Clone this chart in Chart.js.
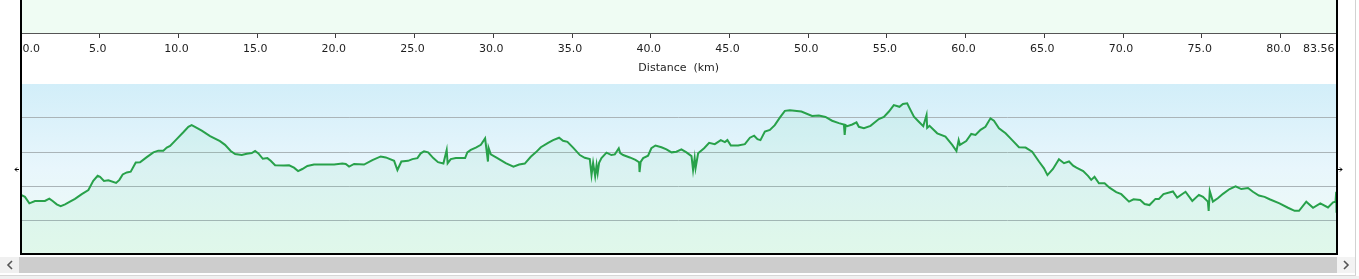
<!DOCTYPE html>
<html>
<head>
<meta charset="utf-8">
<script src="https://cdn.jsdelivr.net/npm/chart.js@4.4.1/dist/chart.umd.min.js"></script>
<style>
body { margin: 0; width: 1359px; height: 279px; overflow: hidden; background: #fff; position: relative; }
canvas, .box, svg { position: absolute; display: block; }
#axisChart { left: 0; top: 0; }
#profileChart { left: 0; top: 84px; }
</style>
</head>
<body>
<canvas id="axisChart" width="1359" height="75"></canvas>
<canvas id="profileChart" width="1359" height="170"></canvas>

<!-- frame + scrollbar -->
<div class="box" style="left:20px;top:0;width:2px;height:255px;background:#000"></div>
<div class="box" style="left:1336px;top:0;width:2px;height:255px;background:#000"></div>
<div class="box" style="left:20px;top:253px;width:1318px;height:2px;background:#000"></div>
<div class="box" style="left:1355px;top:0;width:1px;height:276px;background:#d2d2d2"></div>
<div class="box" style="left:0;top:257px;width:19px;height:16px;background:#f0f0f0"></div>
<div class="box" style="left:19px;top:257px;width:1318px;height:16px;background:#cdcdcd"></div>
<div class="box" style="left:1337px;top:257px;width:18px;height:16px;background:#f3f3f3"></div>
<div class="box" style="left:0;top:275px;width:1356px;height:1px;background:#d7d7d7"></div>
<div class="box" style="left:0;top:276px;width:1359px;height:3px;background:#f0f0f0"></div>
<svg style="left:6px;top:260px" width="8" height="10"><polyline points="6,1 2,5 6,9" stroke="#555" stroke-width="1.6" fill="none"/></svg>
<svg style="left:1342px;top:260px" width="8" height="10"><polyline points="2,1 6,5 2,9" stroke="#555" stroke-width="1.6" fill="none"/></svg>

<script>
// tick values / labels for the distance axis
const distanceTicks = [0, 5, 10, 15, 20, 25, 30, 35, 40, 45, 50, 55, 60, 65, 70, 75, 80, 83.56];
const distanceTickLabels = ["0.0", "5.0", "10.0", "15.0", "20.0", "25.0", "30.0", "35.0", "40.0",
	"45.0", "50.0", "55.0", "60.0", "65.0", "70.0", "75.0", "80.0", "83.56"];

// elevation profile (km, m)
const distanceKm = [
	0.00, 0.25, 0.53, 0.89, 1.52, 1.80, 2.01, 2.27, 2.52, 2.80, 3.11, 3.43, 3.86, 4.28, 4.59, 4.87,
	5.02, 5.27, 5.55, 6.04, 6.25, 6.46, 6.72, 6.97, 7.29, 7.56, 7.99, 8.41, 8.72, 9.04, 9.26, 9.47,
	9.89, 10.31, 10.63, 10.84, 11.05, 11.48, 12.01, 12.64, 12.96, 13.32, 13.60, 14.02, 14.34, 14.66,
	14.87, 15.08, 15.36, 15.65, 15.86, 16.14, 16.71, 17.03, 17.34, 17.60, 17.87, 18.19, 18.61, 19.25,
	19.89, 20.41, 20.63, 20.84, 21.16, 21.79, 22.32, 22.85, 23.17, 23.70, 23.91, 24.16, 24.59, 24.86,
	25.18, 25.39, 25.60, 25.86, 26.19, 26.49, 26.83, 27.04, 27.10, 27.30, 27.62, 28.21, 28.35, 28.57,
	28.89, 29.21, 29.48, 29.66, 29.70, 29.84, 30.26, 30.79, 31.28, 31.64, 32.00, 32.38, 32.70, 33.02,
	33.48, 33.80, 34.18, 34.43, 34.71, 35.07, 35.50, 35.81, 36.13, 36.24, 36.34, 36.47, 36.56, 36.63,
	36.72, 36.87, 37.19, 37.50, 37.72, 37.97, 38.06, 38.25, 38.67, 39.03, 39.26, 39.29, 39.36, 39.52,
	39.83, 40.04, 40.30, 40.68, 41.00, 41.32, 41.63, 41.95, 42.27, 42.59, 42.69, 42.79, 42.85, 43.01,
	43.39, 43.71, 44.07, 44.45, 44.71, 44.87, 45.09, 45.55, 45.98, 46.30, 46.57, 46.78, 46.97, 47.25,
	47.57, 47.88, 48.20, 48.52, 48.84, 49.57, 50.25, 50.68, 51.10, 51.52, 51.95, 52.27, 52.32, 52.38,
	52.48, 52.80, 53.07, 53.22, 53.54, 53.96, 54.49, 54.81, 55.13, 55.44, 55.80, 56.02, 56.29, 56.44,
	56.72, 57.03, 57.31, 57.52, 57.56, 57.71, 58.20, 58.72, 59.15, 59.42, 59.56, 59.64, 60.04, 60.36,
	60.63, 60.95, 61.26, 61.58, 61.80, 62.12, 62.54, 62.96, 63.39, 63.81, 64.23, 64.66, 64.98, 65.20,
	65.55, 65.93, 66.25, 66.57, 66.83, 67.04, 67.47, 67.79, 67.98, 68.19, 68.47, 68.83, 69.14, 69.57,
	69.89, 70.38, 70.67, 71.09, 71.37, 71.68, 72.06, 72.28, 72.57, 73.17, 73.44, 73.97, 74.40, 74.82,
	75.08, 75.39, 75.44, 75.51, 75.71, 76.02, 76.35, 76.77, 77.15, 77.51, 77.94, 78.25, 78.63, 78.99,
	79.31, 79.94, 80.48, 80.90, 81.18, 81.64, 82.07, 82.53, 83.02, 83.34, 83.50, 83.54, 83.56,
];
const elevationM = [
	174, 168, 149, 156, 156, 163, 156, 146, 141, 146, 154, 162, 176, 188, 215, 230,
	227, 215, 217, 209, 218, 234, 240, 242, 269, 270, 285, 299, 304, 304, 313, 318,
	338, 358, 374, 379, 374, 363, 347, 332, 321, 303, 294, 291, 295, 297,
	303, 296, 280, 282, 274, 261, 260, 261, 254, 244, 250, 259, 263, 263,
	263, 266, 265, 257, 265, 263, 276, 287, 284, 274, 247, 272, 274, 279,
	282, 296, 302, 299, 282, 270, 266, 306, 267, 279, 282, 282, 299, 306,
	313, 321, 340, 272, 312, 293, 282, 267, 257, 263, 266, 286, 299, 314,
	327, 335, 342, 333, 330, 313, 291, 283, 279, 232, 268, 229, 262, 238,
	268, 282, 298, 291, 293, 311, 297, 291, 284, 277, 270, 241, 271, 282,
	289, 311, 319, 314, 308, 299, 301, 308, 299, 288, 247, 282, 253, 296,
	311, 327, 323, 335, 329, 335, 319, 319, 323, 342, 348, 338, 335, 360,
	365, 379, 401, 421, 423, 419, 406, 407, 403, 392, 385, 381, 350, 379,
	376, 381, 387, 374, 370, 377, 397, 403, 419, 438, 433, 441, 443, 429,
	404, 389, 376, 409, 371, 377, 355, 345, 321, 303, 335, 321, 332, 353,
	350, 365, 374, 399, 392, 370, 355, 335, 314, 313, 301, 272, 252, 232,
	250, 279, 267, 272, 260, 254, 244, 229, 218, 227, 208, 208, 195, 182,
	176, 154, 161, 159, 147, 144, 162, 162, 176, 184, 166, 183, 156, 174,
	168, 154, 127, 185, 154, 164, 177, 191, 199, 191, 194, 183, 172, 168,
	161, 149, 136, 127, 127, 154, 136, 149, 137, 152, 154, 183, 121,
];

const FONT = { family: "DejaVu Sans", size: 11 };
const TEXT_COLOR = "#1e1e1e";

// fills the plot area (flat colour or vertical gradient)
const areaFill = {
	id: "areaFill",
	beforeDraw(chart, args, opts) {
		const { ctx, chartArea: a } = chart;
		ctx.save();
		if (opts.stops) {
			const g = ctx.createLinearGradient(0, a.top, 0, a.bottom);
			opts.stops.forEach((s) => g.addColorStop(s[0], s[1]));
			ctx.fillStyle = g;
		} else {
			ctx.fillStyle = opts.color;
		}
		ctx.fillRect(a.left, a.top, a.right - a.left, a.bottom - a.top);
		ctx.restore();
	},
};

// little arrows on both sides, at mid height
const sideMarkers = {
	id: "sideMarkers",
	afterDraw(chart) {
		const { ctx, chartArea: a } = chart;
		const y = Math.round((a.top + a.bottom) / 2) + 0.5;
		ctx.save();
		ctx.strokeStyle = "#000";
		ctx.lineWidth = 1;
		ctx.beginPath();
		ctx.moveTo(a.left - 2, y); ctx.lineTo(a.left - 6, y);
		ctx.moveTo(a.left - 4, y - 2); ctx.lineTo(a.left - 6, y); ctx.lineTo(a.left - 4, y + 2);
		ctx.moveTo(a.right + 1.5, y); ctx.lineTo(a.right + 5.5, y);
		ctx.moveTo(a.right + 3.5, y - 2); ctx.lineTo(a.right + 5.5, y); ctx.lineTo(a.right + 3.5, y + 2);
		ctx.stroke();
		ctx.restore();
	},
};

// top panel with the distance axis
new Chart(document.getElementById("axisChart"), {
	type: "line",
	data: { datasets: [] },
	options: {
		responsive: false,
		animation: false,
		layout: { padding: { left: 21, right: 22.5, top: 0, bottom: 0 } },
		plugins: {
			legend: { display: false },
			tooltip: { enabled: false },
			areaFill: { color: "#effcf3" },
		},
		scales: {
			x: {
				type: "linear",
				min: 0,
				max: 83.56,
				afterBuildTicks: (s) => {
					s.ticks = distanceTicks.map((v) => ({ value: v }));
				},
				// fixed axis height so the panel ends where the original does
				afterFit: (s) => {
					s.height = 42;
				},
				ticks: {
					align: "inner",
					autoSkip: false,
					maxRotation: 0,
					padding: 5,
					labelOffset: -2,
					color: TEXT_COLOR,
					font: FONT,
					// leading space keeps "0.0" clear of the frame
					callback: (v, i) => (i === 0 ? " " : "") + distanceTickLabels[i],
				},
				grid: { drawOnChartArea: false, drawTicks: true, tickLength: 5, color: "#3c3c3c" },
				border: { display: true, color: "#555", width: 1 },
				title: {
					display: true,
					text: "Distance  (km)",
					color: TEXT_COLOR,
					font: FONT,
					padding: { top: 0, bottom: 0 },
				},
			},
			y: { display: false, min: 0, max: 1 },
		},
	},
	plugins: [areaFill],
});

// elevation profile
new Chart(document.getElementById("profileChart"), {
	type: "line",
	data: {
		datasets: [
			{
				data: distanceKm.map((d, i) => ({ x: d, y: elevationM[i] })),
				borderColor: "#28a14a",
				borderWidth: 2,
				pointRadius: 0,
				tension: 0,
				fill: "origin",
				backgroundColor: "rgba(80, 210, 140, 0.09)",
			},
		],
	},
	options: {
		responsive: false,
		animation: false,
		layout: { padding: { left: 21, right: 22.5, top: 0, bottom: 0 } },
		plugins: {
			legend: { display: false },
			tooltip: { enabled: false },
			areaFill: { stops: [[0, "#d2eef9"], [0.5, "#e8f6fc"], [1, "#effcf3"]] },
		},
		scales: {
			x: { type: "linear", display: false, min: 0, max: 83.56 },
			y: {
				min: 0,
				max: 500,
				ticks: { display: false, stepSize: 100 },
				grid: {
					drawTicks: false,
					color: (c) => (c.tick.value % 500 === 0 ? "rgba(0,0,0,0)" : "#aab4b8"),
				},
				border: { display: false },
			},
		},
	},
	plugins: [areaFill, sideMarkers],
});
</script>
</body>
</html>
